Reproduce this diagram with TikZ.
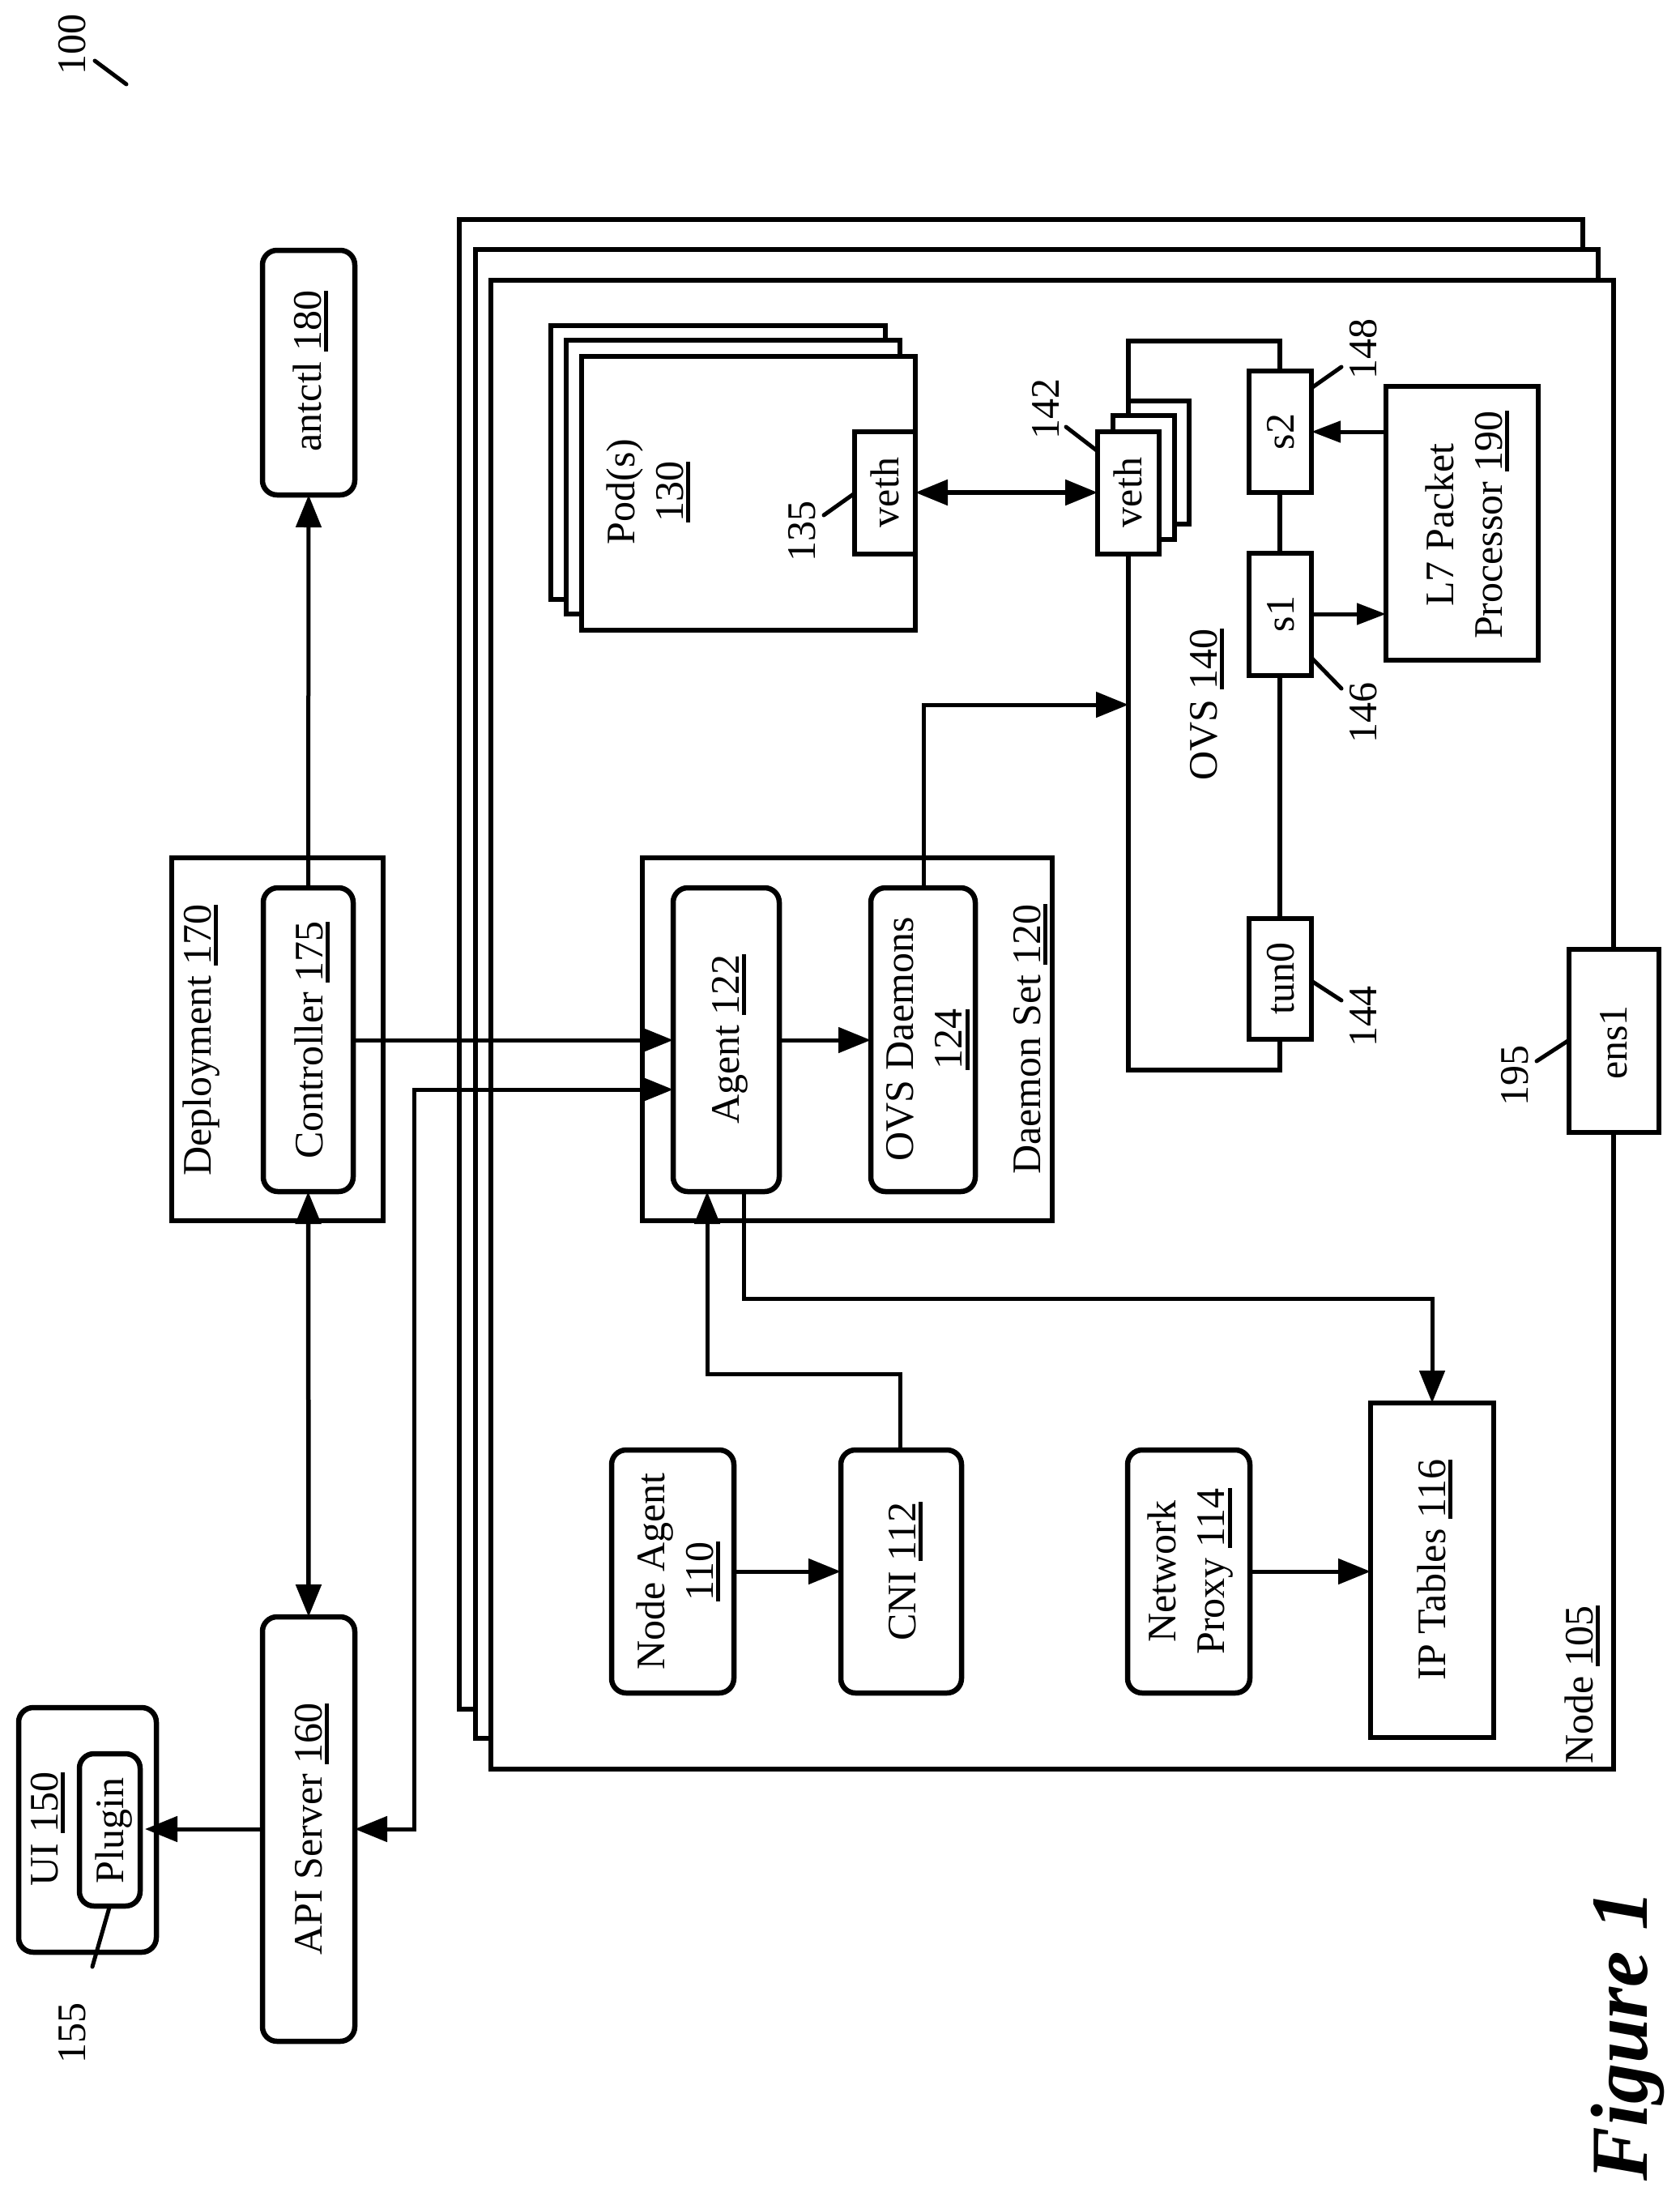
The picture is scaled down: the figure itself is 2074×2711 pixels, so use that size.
\documentclass[tikz,border=0pt]{standalone}
\usepackage{fontspec}
\setmainfont{Liberation Serif}
\usetikzlibrary{arrows.meta}
\newcommand{\mybox}[6]{%
  \pgfmathsetmacro\mycx{(#3+#5)/2}%
  \pgfmathsetmacro\mycy{(#4+#6)/2}%
  \pgfmathsetmacro\mybw{#5-#3}%
  \pgfmathsetmacro\mybh{#6-#4}%
  \node[#1,minimum width=\mybw pt,minimum height=\mybh pt] (#2) at (\mycx,\mycy) {};}
\newcommand{\ul}[1]{\setbox0\hbox{#1}\rlap{\smash{\rule[-9pt]{\wd0}{5pt}}}\box0 }
\tikzset{
  sq/.style={draw=black,fill=white,line width=6.5pt,inner sep=0pt,outer sep=0pt,line join=miter},
  rnd/.style={sq,rounded corners=18pt},
  open/.style={sq,fill=none},
  lab/.style={rotate=90,anchor=base,inner sep=0pt,outer sep=0pt,font=\fontsize{50}{60}\selectfont},
  two/.style={rotate=90,anchor=center,align=center,inner sep=0pt,outer sep=0pt,font=\fontsize{50}{60}\selectfont},
  conn/.style={line width=5pt,draw=black,-{Triangle[length=40pt,width=31pt]}},
  smallconn/.style={line width=5pt,draw=black,-{Triangle[length=36pt,width=26pt]}},
  both/.style={line width=5.5pt,draw=black,{Triangle[length=40pt,width=31pt]}-{Triangle[length=40pt,width=31pt]}},
  bothflat/.style={both,line width=5pt},
  tick/.style={line width=5pt,draw=black,line cap=round}
}
\begin{document}
\begin{tikzpicture}[x=1pt,y=-1pt]
\useasboundingbox (0,0) rectangle (2074,2711);
\path[fill=white] (0,0) rectangle (2074,2711);
% node stack
\mybox{sq}{nodeC}{567}{271}{1954}{2110}
\mybox{sq}{nodeB}{587}{308}{1973}{2146}
\mybox{sq}{nodeA}{606}{346}{1992}{2184}
% pods
\mybox{sq}{podC}{680}{402}{1093}{740}
\mybox{sq}{podB}{699}{420}{1111}{758}
\mybox{sq}{podA}{718}{440}{1130}{778}
\mybox{sq}{vethp}{1055}{533}{1130}{684}
% OVS
\mybox{open}{ovs}{1393}{421}{1580}{1321}
\mybox{sq}{vethC}{1393}{495}{1468}{647}
\mybox{sq}{vethB}{1374}{513}{1450}{666}
\mybox{sq}{vethA}{1355}{533}{1431}{684}
\mybox{sq}{stwo}{1542}{458}{1619}{608}
\mybox{sq}{sone}{1542}{683}{1619}{834}
\mybox{sq}{tun}{1542}{1134}{1619}{1283}
\mybox{sq}{lseven}{1711}{477}{1899}{815}
\mybox{sq}{ens}{1937}{1172}{2048}{1398}
% daemon set, deployment
\mybox{open}{ds}{793}{1059}{1299}{1507}
\mybox{rnd}{agent}{831}{1096}{962}{1471}
\mybox{rnd}{ovsd}{1075}{1096}{1204}{1471}
\mybox{open}{dep}{212}{1059}{473}{1507}
\mybox{rnd}{ctrl}{325}{1096}{436}{1471}
% others
\mybox{rnd}{antctl}{324}{309}{438}{611}
\mybox{rnd}{api}{324}{1996}{438}{2520}
\mybox{rnd}{ui}{23}{2108}{193}{2410}
\mybox{rnd}{plugin}{98}{2165}{173}{2353}
\mybox{rnd}{nagent}{755}{1790}{906}{2090}
\mybox{rnd}{cni}{1038}{1790}{1187}{2090}
\mybox{rnd}{nproxy}{1392}{1790}{1543}{2090}
\mybox{sq}{ipt}{1692}{1732}{1844}{2145}
% connectors
\coordinate (cApiUp) at (511,2258);
\coordinate (cApiDown) at (511,1345);
\coordinate (cCniA) at (1111,1696);
\coordinate (cCniB) at (873,1696);
\coordinate (cAgentB) at (918,1603);
\coordinate (cIptB) at (1768,1603);
\coordinate (cOvsA) at (1140,870);
\draw[conn] (ctrl.north) -- (antctl.south);
\draw[both] (ctrl.south) -- (api.north);
\draw[conn] (ctrl.east |- 0,1284) -- (agent.west |- 0,1284);
\draw[bothflat] (api.east |- 0,2258) -- (cApiUp) -- (cApiDown) -- (agent.west |- 0,1345);
\draw[conn] (api.west |- 0,2258) -- (179,2258);
\draw[conn] (agent.east |- 0,1284) -- (ovsd.west |- 0,1284);
\draw[conn] (nagent.east |- 0,1940) -- (cni.west |- 0,1940);
\draw[conn] (cCniA |- cni.north) -- (cCniA) -- (cCniB) -- (cCniB |- agent.south);
\draw[conn] (cAgentB |- agent.south) -- (cAgentB) -- (cIptB) -- (cIptB |- ipt.north);
\draw[conn] (nproxy.east |- 0,1940) -- (ipt.west |- 0,1940);
\draw[conn] (cOvsA |- ovsd.north) -- (cOvsA) -- (ovs.west |- cOvsA);
\draw[both] (vethp.east |- 0,608) -- (vethA.west |- 0,608);
\draw[smallconn] (sone.east |- 0,758) -- (lseven.west |- 0,758);
\draw[smallconn] (lseven.west |- 0,533) -- (stwo.east |- 0,533);
% lead lines
\coordinate (t100a) at (117,75);
\coordinate (t100b) at (156,104);
\draw[tick] (t100a) -- (t100b);
\coordinate (t155) at (114,2428);
\draw[tick] (t155) -- (plugin.south);
\coordinate (t135) at (1017,636);
\draw[tick] (t135) -- (vethp.west |- 0,609);
\coordinate (t142) at (1316,527);
\draw[tick] (t142) -- (vethA.west |- 0,557);
\coordinate (t148) at (1656,453);
\draw[tick] (t148) -- (stwo.east |- 0,479);
\coordinate (t146) at (1656,850);
\draw[tick] (t146) -- (sone.east |- 0,812);
\coordinate (t144) at (1656,1235);
\draw[tick] (t144) -- (tun.east |- 0,1211);
\coordinate (t195) at (1897,1310);
\draw[tick] (t195) -- (ens.west |- 0,1284);
% text
\node[lab] (l100) at (105,55) {100};
\node[lab] (l155) at (105,2510) {155};
\node[lab] (lui) at (71,2258) {UI \ul{150}};
\node[lab] (lplugin) at (152,2260) {Plugin};
\node[lab] (lapi) at (397,2258) {API Server \ul{160}};
\node[lab] (lantctl) at (396,458) {antctl \ul{180}};
\node[lab] (ldep) at (260,1284) {Deployment \ul{170}};
\node[lab] (lctrl) at (398,1284) {Controller \ul{175}};
\node[lab] (lagent) at (912,1283) {Agent \ul{122}};
\node[two] (lovsd) at (1141,1283) {OVS Daemons\\\ul{124}};
\node[lab] (lds) at (1284,1283) {Daemon Set \ul{120}};
\node[two] (lnagent) at (833,1940) {Node Agent\\\ul{110}};
\node[lab] (lcni) at (1130,1940) {CNI \ul{112}};
\node[two] (lnproxy) at (1470,1940) {Network\\Proxy \ul{114}};
\node[lab] (lipt) at (1784,1938) {IP Tables \ul{116}};
\node[lab] (lnode) at (1966,2080) {Node \ul{105}};
\node[two] (lpod) at (796,607) {Pod(s)\\\ul{130}};
\node[lab] (lvp) at (1109,608) {veth};
\node[lab] (lva) at (1409,608) {veth};
\node[lab] (ls2) at (1597,533) {s2};
\node[lab] (ls1) at (1597,758) {s1};
\node[lab] (ltun) at (1597,1208) {tun0};
\node[lab] (lovs) at (1502,870) {OVS \ul{140}};
\node[two] (ll7) at (1807,648) {L7 Packet\\Processor \ul{190}};
\node[lab] (lens) at (2008,1287) {ens1};
\node[lab] (l135) at (1006,656) {135};
\node[lab] (l142) at (1307,505) {142};
\node[lab] (l148) at (1699,431) {148};
\node[lab] (l146) at (1699,880) {146};
\node[lab] (l144) at (1699,1255) {144};
\node[lab] (l195) at (1886,1328) {195};
\node[rotate=90,anchor=base,inner sep=0pt,font=\fontsize{100}{110}\selectfont\bfseries\itshape] (lfig) at (2033,2513) {Figure 1};
\end{tikzpicture}
\end{document}
